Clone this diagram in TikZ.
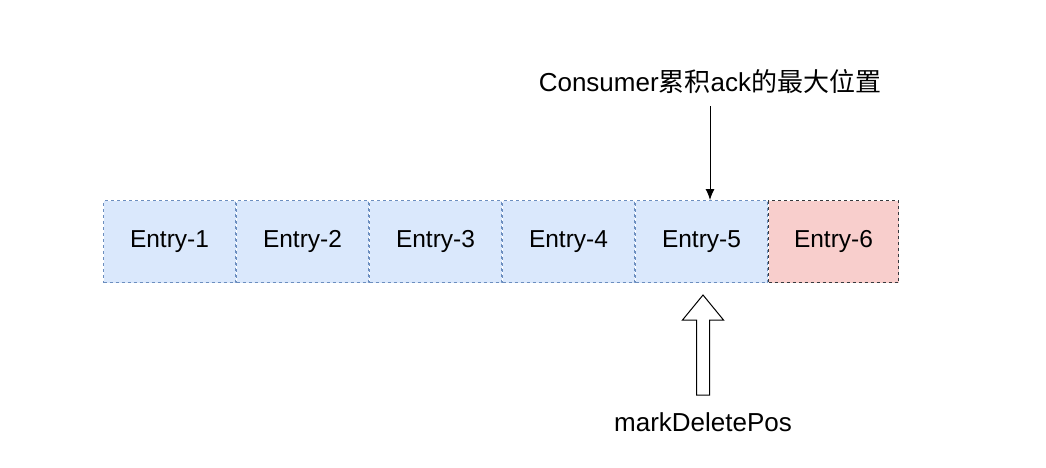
\documentclass[tikz,border=0pt]{standalone}
\usepackage{fontspec}
\setmainfont{Liberation Sans}
\newfontfamily\cjk{Noto Sans CJK SC}
\usepackage{tikz}
\usetikzlibrary{shapes,arrows,arrows.meta,positioning}
\definecolor{entryblue}{HTML}{DAE8FC}
\definecolor{entryline}{HTML}{6C8EBF}
\definecolor{entryred}{HTML}{F8CECC}
\definecolor{redline}{HTML}{36393D}
\tikzstyle{entry} = [draw=entryline, fill=entryblue, dashed, line width=1pt, minimum width=132pt, minimum height=82pt, inner sep=0pt, font=\fontsize{24.5}{29}\selectfont]
\tikzstyle{last} = [entry, draw=redline, fill=entryred]
\tikzstyle{label} = [inner sep=0pt, font=\fontsize{26}{31}\selectfont]

\begin{document}
\begin{tikzpicture}[x=1pt,y=-1pt]
	\useasboundingbox[fill=white] (0,0) rectangle (1046,468);
	\node[entry] (e1) at (169.5,241.5) {Entry-1};
	\node[entry,right=0pt of e1] (e2) {Entry-2};
	\node[entry,right=0pt of e2] (e3) {Entry-3};
	\node[entry,right=0pt of e3] (e4) {Entry-4};
	\node[entry,right=0pt of e4] (e5) {Entry-5};
	\node[last,right=0pt of e5,minimum width=130pt] (e6) {Entry-6};
	\node[label] (ack) at (710,82) {Consumer{\cjk 累积}ack{\cjk 的最大位置}};
	\draw[-{Latex[length=11pt,width=9pt]},line width=1pt] (ack.south) ++(0,12) -- (ack |- e5.north);
	\draw[shift={(e5.south)},fill=white,line width=1pt] (1.5,12) -- (22,37) -- (8,37) -- (8,112) -- (-5,112) -- (-5,37) -- (-19,37) -- cycle;
	\node[label] (pos) at (703,422) {markDeletePos};
\end{tikzpicture}
\end{document}
